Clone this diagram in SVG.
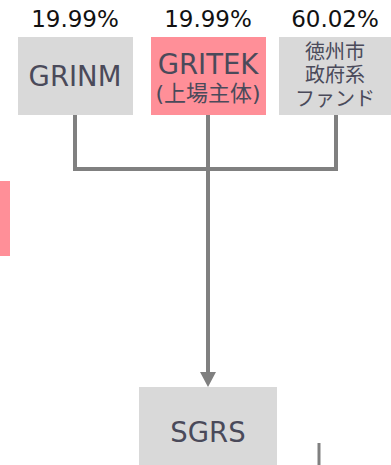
<svg xmlns="http://www.w3.org/2000/svg" width="391" height="465" viewBox="0 0 391 465">
<defs>
<style>
.box{fill:#d9d9d9}
.pink{fill:#ff8f98}
.lbl{font-family:"DejaVu Sans","Noto Sans CJK JP",sans-serif;fill:#4a4a5a;text-anchor:middle}
.pct{font-family:"DejaVu Sans","Noto Sans CJK JP",sans-serif;fill:#111;text-anchor:middle;font-size:23px}
.ln{stroke:#808080;stroke-width:4;fill:none}
</style>
</defs>
<rect class="pink" x="0" y="181" width="10" height="75"/>
<g id="connectors">
<path class="ln" d="M75,113 V169 H336 V113"/>
<path class="ln" d="M208,113 V372"/>
<path d="M200,372 L216,372 L208,387 Z" fill="#808080"/>
<path class="ln" d="M319,443 V465" style="stroke-width:3"/>
</g>
<g id="grinm">
<text class="pct" x="75" y="27">19.99%</text>
<rect class="box" x="18" y="37" width="115" height="78"/>
<text class="lbl" x="75" y="86" font-size="27.5">GRINM</text>
</g>
<g id="gritek">
<text class="pct" x="208" y="27">19.99%</text>
<rect class="pink" x="151" y="37" width="115" height="78"/>
<text class="lbl" x="208" y="74" font-size="27.5">GRITEK</text>
<text class="lbl" x="208" y="101" font-size="22">(上場主体)</text>
</g>
<g id="fund">
<text class="pct" x="335" y="27">60.02%</text>
<rect class="box" x="279" y="37" width="112" height="78"/>
<text class="lbl" x="335" y="59" font-size="20">徳州市</text>
<text class="lbl" x="335" y="82" font-size="20">政府系</text>
<text class="lbl" x="335" y="106" font-size="20">ファンド</text>
</g>
<g id="sgrs">
<rect class="box" x="139" y="387" width="138" height="78"/>
<text class="lbl" x="208" y="442" font-size="27.5">SGRS</text>
</g>
</svg>
